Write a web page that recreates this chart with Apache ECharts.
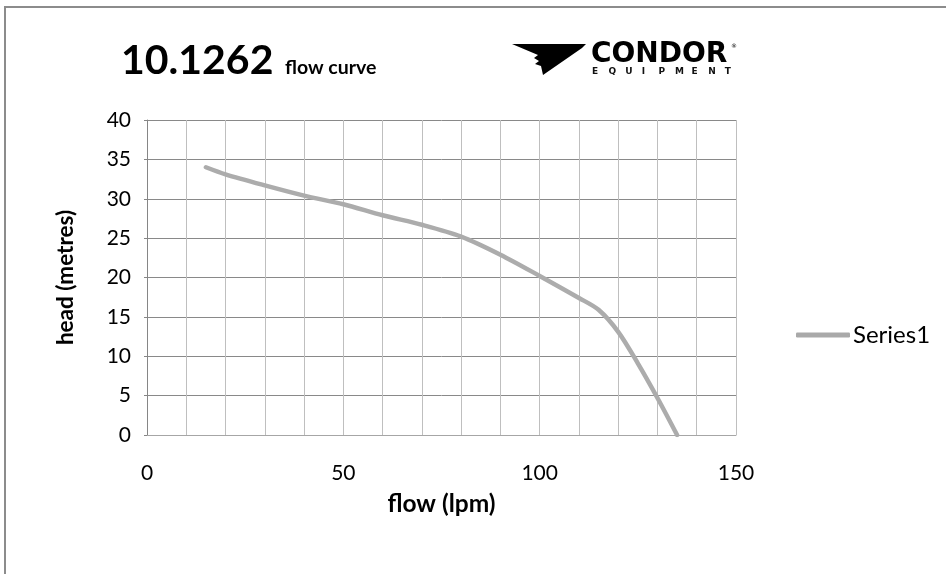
<!DOCTYPE html>
<html>
<head>
<meta charset="utf-8">
<script src="https://cdn.jsdelivr.net/npm/echarts@6/dist/echarts.min.js"></script>
<style>
    html, body { margin: 0; padding: 0; background: #fff; }
    #main { width: 946px; height: 574px; }
</style>
</head>
<body>
<div id="main"></div>
<script>
    // flow (lpm) vs head (metres)
    var flow = [15, 20, 30, 40, 50, 60, 70, 80, 90, 100, 110, 115, 120, 125, 130, 135];
    var head = [34, 33.1, 31.7, 30.4, 29.3, 27.9, 26.7, 25.2, 22.9, 20.2, 17.4, 15.9, 13.1, 9.1, 4.7, 0];
    var xTicks = [0, 50, 100, 150];
    var seriesName = 'Series1';

    var chart = echarts.init(document.getElementById('main'));

    var points = flow.map(function (f, i) { return [f, head[i]]; });

    var letters = 'EQUIPMENT'.split('');
    var equipment = letters.map(function (ch, i) {
        return {
            type: 'text',
            left: 592 + i * 16.6,
            top: 67,
            style: { text: ch, fill: '#111', font: 'bold 9px "DejaVu Sans"' }
        };
    });

    chart.setOption({
        animation: false,
        textStyle: { fontFamily: 'Lato' },
        graphic: [
            {
                type: 'rect',
                shape: { x: 5, y: 7, width: 1200, height: 1000 },
                style: { fill: 'none', stroke: '#8c8c8c', lineWidth: 2 }
            },
            {
                type: 'text',
                left: 121,
                top: 40,
                style: { text: '10.1262', fill: '#000', font: 'bold 41px Lato' }
            },
            {
                type: 'text',
                left: 285,
                top: 58,
                style: { text: 'flow curve', fill: '#000', font: 'bold 19.5px Lato' }
            },
            {
                type: 'polygon',
                shape: {
                    points: [[512, 44], [586, 44], [582, 48], [543, 75], [541, 66],
                        [535, 64], [539, 61], [534, 58], [538, 55]]
                },
                style: { fill: '#000' }
            },
            {
                type: 'text',
                left: 591,
                top: 41,
                style: { text: 'CONDOR', fill: '#000', font: 'bold 28px "DejaVu Sans"' }
            },
            {
                type: 'text',
                left: 731,
                top: 43,
                style: { text: '®', fill: '#000', font: '6px "DejaVu Sans"' }
            }
        ].concat(equipment),
        grid: { left: 147, right: 210, top: 120, bottom: 139 },
        legend: {
            left: 791,
            top: 318,
            icon: 'roundRect',
            itemWidth: 54,
            itemHeight: 5,
            itemGap: 0,
            itemStyle: { color: '#a9a9a9' },
            textStyle: { fontSize: 24, color: '#000', fontFamily: 'Lato', padding: [0, 0, 0, -2] },
            data: [seriesName]
        },
        xAxis: {
            type: 'value',
            min: 0,
            max: 150,
            interval: 10,
            name: 'flow (lpm)',
            nameLocation: 'middle',
            nameGap: 57,
            nameTextStyle: { fontSize: 24.5, fontWeight: 'bold', color: '#000', fontFamily: 'Lato' },
            axisLine: { show: true, lineStyle: { color: '#a6a6a6', width: 1 } },
            axisTick: { show: false },
            axisLabel: {
                margin: 28,
                fontSize: 21,
                color: '#000',
                fontFamily: 'Lato',
                formatter: function (v) { return xTicks.indexOf(v) >= 0 ? String(v) : ''; }
            },
            splitLine: { show: true, lineStyle: { color: '#bfbfbf', width: 1 } }
        },
        yAxis: {
            type: 'value',
            min: 0,
            max: 40,
            interval: 5,
            name: 'head (metres)',
            nameLocation: 'middle',
            nameGap: 70,
            nameTextStyle: { fontSize: 22.5, fontWeight: 'bold', color: '#000', fontFamily: 'Lato' },
            axisLine: { show: true, lineStyle: { color: '#868686', width: 1 } },
            axisTick: { show: true, length: 3, lineStyle: { color: '#868686' } },
            axisLabel: { margin: 16, fontSize: 21, color: '#000', fontFamily: 'Lato' },
            splitLine: { show: true, lineStyle: { color: '#898989', width: 1 } }
        },
        series: [{
            name: seriesName,
            type: 'line',
            data: points,
            smooth: 0.3,
            symbol: 'none',
            lineStyle: { color: '#acacac', width: 4.5, cap: 'round' },
            itemStyle: { color: '#acacac' }
        }]
    });
</script>
</body>
</html>
